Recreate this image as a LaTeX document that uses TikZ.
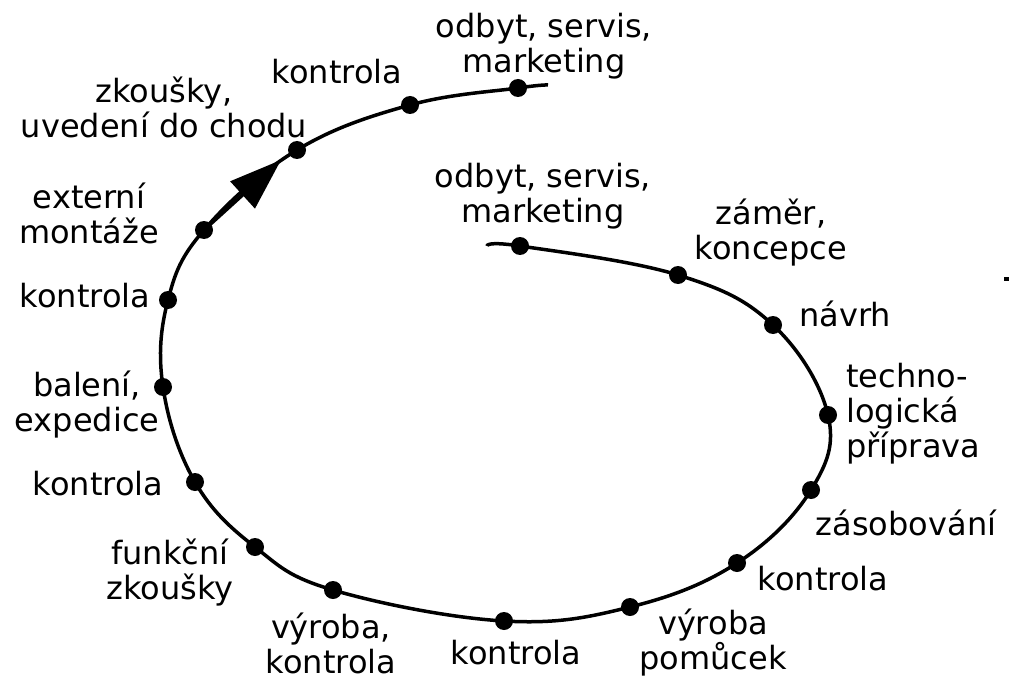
\documentclass[tikz,border=0pt]{standalone}
\usepackage{fontspec}
\setmainfont{DejaVu Sans}
\usetikzlibrary{arrows.meta}

\begin{document}
\begin{tikzpicture}[x=1pt,y=-1pt,
  curve/.style={line width=3.5pt, line join=round},
  stage/.style={circle, fill=black, inner sep=0pt, minimum size=18pt},
  lbl/.style={font=\fontsize{32}{35}\selectfont, inner sep=0pt, align=center},
  flow/.style={line width=3.5pt, -{Triangle[length=52pt,width=36pt]}}]

  % page
  \fill[white] (0,0) rectangle (1014,679);
  \useasboundingbox (0,0) rectangle (1014,679);

  % points on the spiral, from the inner start outwards
  \coordinate (s)   at (487,246);
  \coordinate (p1)  at (520,246);
  \coordinate (p2)  at (678,275);
  \coordinate (p3)  at (773,325);
  \coordinate (p4)  at (828,415);
  \coordinate (p5)  at (811,490);
  \coordinate (p6)  at (737,563);
  \coordinate (p7)  at (630,607);
  \coordinate (p8)  at (504,621);
  \coordinate (p9)  at (333,590);
  \coordinate (p10) at (255,547);
  \coordinate (p11) at (195,482);
  \coordinate (p12) at (163,387);
  \coordinate (p13) at (168,300);
  \coordinate (p14) at (204,230);
  \coordinate (p15) at (297,150);
  \coordinate (p16) at (410,105);
  \coordinate (p17) at (518,88);
  \coordinate (e)   at (548,85);
  \coordinate (atip) at (281,160);

  % the spiral
  \draw[curve] plot[smooth, tension=0.65] coordinates
    {(s) (p1) (p2) (p3) (p4) (p5) (p6) (p7) (p8) (p9) (p10)
     (p11) (p12) (p13) (p14) (p15) (p16) (p17) (e)};

  % direction arrow
  \draw[flow] (p14) -- (atip);

  % stage dots
  \foreach \i in {1,...,17} { \node[stage] (d\i) at (p\i) {}; }

  % stray mark
  \fill (1004,277) rectangle (1009,281);

  % labels
  \node[lbl] (l17) at (544,46)  {odbyt, servis,\\marketing};
  \node[lbl] (l16) at (337,72)  {kontrola};
  \node[lbl] (l15) at (164,107) {zkoušky,\\uvedení do chodu};
  \node[lbl] (l14) at (89,213)  {externí\\montáže};
  \node[lbl] (l13) at (85,296)  {kontrola};
  \node[lbl] (l12) at (87,405)  {balení,\\expedice};
  \node[lbl] (l11) at (98,484)  {kontrola};
  \node[lbl] (l10) at (170,573) {funkční\\zkoušky};
  \node[lbl] (l9)  at (331,643) {výroba,\\kontrola};
  \node[lbl] (l8)  at (516,653) {kontrola};
  \node[lbl] (l7)  at (713,643) {výroba\\pomůcek};
  \node[lbl] (l6)  at (823,579) {kontrola};
  \node[lbl] (l5)  at (906,523) {zásobování};
  \node[lbl, align=left, anchor=west] (l4) at (846,414) {techno-\\logická\\příprava};
  \node[lbl] (l3)  at (845,314) {návrh};
  \node[lbl] (l2)  at (771,233) {záměr,\\koncepce};
  \node[lbl] (l1)  at (543,196) {odbyt, servis,\\marketing};
\end{tikzpicture}
\end{document}
